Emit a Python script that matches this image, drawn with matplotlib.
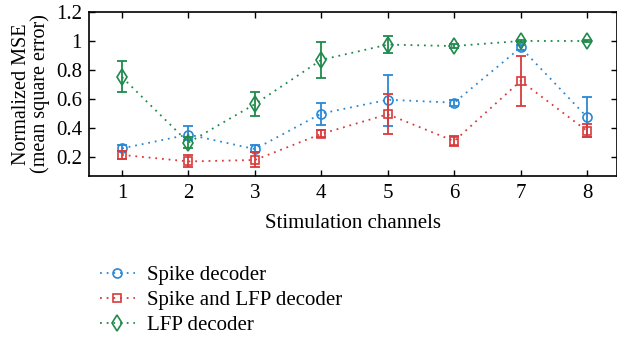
import numpy as np
from matplotlib import pyplot as plt

# Data
channels = [1, 2, 3, 4, 5, 6, 7, 8]

spike_mean = [0.26, 0.355, 0.255, 0.50, 0.595, 0.575, 0.955, 0.475]
spike_lo = [0.24, 0.315, 0.235, 0.42, 0.415, 0.55, 0.935, 0.335]
spike_hi = [0.28, 0.415, 0.285, 0.57, 0.765, 0.595, 0.975, 0.615]

both_mean = [0.215, 0.17, 0.18, 0.36, 0.495, 0.31, 0.725, 0.38]
both_lo = [0.185, 0.13, 0.135, 0.335, 0.36, 0.275, 0.555, 0.335]
both_hi = [0.245, 0.215, 0.235, 0.39, 0.635, 0.345, 0.895, 0.425]

lfp_mean = [0.75, 0.30, 0.565, 0.87, 0.975, 0.965, 1.0, 1.0]
lfp_lo = [0.645, 0.26, 0.485, 0.745, 0.915, 0.95, 0.99, 0.995]
lfp_hi = [0.86, 0.34, 0.65, 0.995, 1.035, 0.98, 1.01, 1.005]

yticks = [0.2, 0.4, 0.6, 0.8, 1.0, 1.2]
ytick_labels = ['0.2', '0.4', '0.6', '0.8', '1', '1.2']
labels = ['Spike decoder', 'Spike and LFP decoder', 'LFP decoder']

plt.rcParams['font.family'] = ['Liberation Serif', 'DejaVu Serif']

fig = plt.figure(figsize=(6.17, 3.41), dpi=100)
ax = fig.add_axes([0.144, 0.484, 0.856, 0.481])

series = [
    (spike_mean, spike_lo, spike_hi, '#2b88d4', 'o', 6.5),
    (both_mean, both_lo, both_hi, '#d83b3b', 's', 5.5),
    (lfp_mean, lfp_lo, lfp_hi, '#1f8a4c', 'd', 8),
]

handles = []
for (m, lo, hi, col, mk, ms), lab in zip(series, labels):
    m = np.array(m)
    err = [m - np.array(lo), np.array(hi) - m]
    ax.errorbar(channels, m, yerr=err, fmt='none', ecolor=col, elinewidth=1.3,
                capsize=3.5, capthick=1.3)
    h, = ax.plot(channels, m, linestyle=(0, (1, 2.7)), color=col, linewidth=1.3,
                 marker=mk, markersize=ms, markerfacecolor='none',
                 markeredgecolor=col, markeredgewidth=1.2, label=lab)
    handles.append(h)

ax.set_xlim(0.5, 8.45)
ax.set_ylim(0.07, 1.2)
ax.set_xticks(channels)
ax.set_yticks(yticks)
ax.set_yticklabels(ytick_labels)
ax.tick_params(direction='in', length=4, width=1, labelsize=15,
               top=True, right=True)
ax.tick_params(axis='x', pad=6)
ax.tick_params(axis='y', pad=5)
for s in ax.spines.values():
    s.set_linewidth(1.2)

ax.set_xlabel('Stimulation channels', fontsize=15, labelpad=8)
ax.set_ylabel('Normalized MSE\n(mean square error)', fontsize=14.5,
              linespacing=0.95, labelpad=4)

fig.legend(handles=handles, loc='upper left', bbox_to_anchor=(0.148, 0.245),
           frameon=False, fontsize=15, handlelength=1.7, handletextpad=0.55,
           labelspacing=0.25, borderaxespad=0)

fig.savefig('out.png', dpi=100)
